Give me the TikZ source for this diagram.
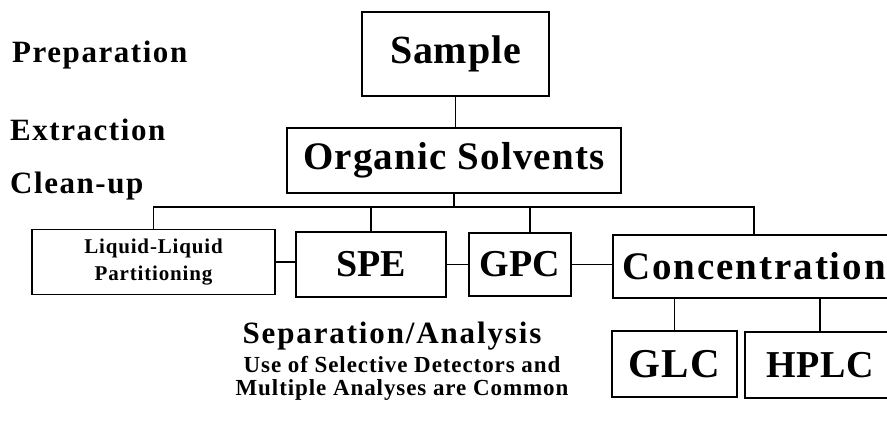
\documentclass[tikz,border=0pt]{standalone}
\usepackage{fontspec}
\setmainfont{Liberation Serif}
\newcommand{\fsz}[1]{\fontsize{#1}{#1}\selectfont}

\begin{document}
\begin{tikzpicture}[x=1pt,y=-1pt,
    box/.style={draw,line width=1.4pt,inner sep=0pt},
    conn/.style={line width=1.2pt},
    stage/.style={anchor=base west,inner sep=0pt,font=\bfseries\fsz{31}\addfontfeature{LetterSpace=5}},
    remark/.style={anchor=base,inner sep=0pt,font=\bfseries\fsz{23}\addfontfeature{LetterSpace=4}}]
        \fill[white] (0,0) rectangle (887,437) ;
        \clip (0,0) rectangle (887,437) ;
        % stage labels
        \node[stage] (prep) at (12,62) {Preparation} ;
        \node[stage] (extr) at (10,140) {Extraction} ;
        \node[stage] (clean) at (10,193) {Clean-up} ;
        % boxes
        \node[box,minimum width=187,minimum height=84,
          font=\bfseries\fsz{40}\addfontfeature{LetterSpace=2}] (sample) at (455.5,54) {Sample} ;
        \node[box,minimum width=334,minimum height=65,
          font=\bfseries\fsz{39}\addfontfeature{LetterSpace=3}] (organic) at (454,160.5) {Organic Solvents} ;
        \node[box,minimum width=243,minimum height=65,align=center,
          font=\bfseries\fsz{21}\addfontfeature{LetterSpace=4}] (llp) at (153.5,262)
          {Liquid-Liquid\\[6pt]Partitioning} ;
        \node[box,minimum width=150,minimum height=65,font=\bfseries\fsz{38}] (spe) at (371,264.5) {SPE} ;
        \node[box,minimum width=102,minimum height=63,font=\bfseries\fsz{38}] (gpc) at (520,264.5) {GPC} ;
        \node[box,minimum width=282,minimum height=63,
          font=\bfseries\fsz{39}\addfontfeature{LetterSpace=5}] (conc) at (754,266.5) {Concentration} ;
        \node[box,minimum width=125,minimum height=66,
          font=\bfseries\fsz{41}\addfontfeature{LetterSpace=4}] (glc) at (674.5,364) {GLC} ;
        \node[box,minimum width=150,minimum height=66,
          font=\bfseries\fsz{38}\addfontfeature{LetterSpace=2}] (hplc) at (820,365) {HPLC} ;
        % connectors
        \coordinate (bar) at (454,207) ;
        \draw[conn] (sample.south) -- (sample.south |- organic.north) ;
        \draw[conn] (organic.south) -- (organic.south |- bar) ;
        \draw[conn] (llp.north) |- (bar) -| (conc.north) ;
        \draw[conn] (spe.north) -- (spe.north |- bar) ;
        \draw[conn] ([xshift=10pt]gpc.north) -- ([xshift=10pt]gpc.north |- bar) ;
        \draw[conn] (llp.east) -- (llp.east -| spe.west) ;
        \draw[conn] (spe.east) -- (spe.east -| gpc.west) ;
        \draw[conn] (gpc.east) -- (gpc.east -| conc.west) ;
        \draw[conn] (glc.north) -- (glc.north |- conc.south) ;
        \draw[conn] (hplc.north) -- (hplc.north |- conc.south) ;
        % separation text
        \node[remark,font=\bfseries\fsz{31}\addfontfeature{LetterSpace=6}] (sep) at (392,343)
          {Separation/Analysis} ;
        \node[remark] (note1) at (402,372) {Use of Selective Detectors and} ;
        \node[remark] (note2) at (402,395) {Multiple Analyses are Common} ;
      \end{tikzpicture}
\end{document}
